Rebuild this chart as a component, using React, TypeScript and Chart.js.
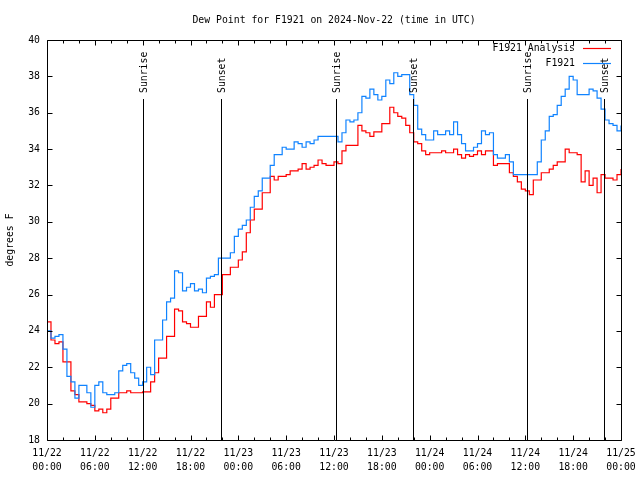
import React, { useEffect, useRef } from 'react';
import { Chart, registerables } from 'chart.js';

Chart.register(...registerables);

const TITLE = 'Dew Point for F1921 on 2024-Nov-22 (time in UTC)';
const Y_TITLE = 'degrees F';
const SERIES_NAMES = ['F1921 Analysis', 'F1921'];
const SERIES_COLORS = ['#ff0000', '#1083ff'];
const SAMPLE_STEP_HOURS = 0.5;

// F1921 Analysis (red), one value every 30 minutes from 11/22 00:00 UTC
const analysis = [
  24.5, 23.5, 23.3, 23.4, 22.3, 22.3, 20.7, 20.5, 20.1, 20.1, 20.0, 19.9,
  19.6, 19.7, 19.5, 19.7, 20.3, 20.3, 20.6, 20.6, 20.7, 20.6, 20.6, 20.6,
  20.65, 20.65, 21.2, 21.7, 22.5, 22.5, 23.7, 23.7, 25.2, 25.1, 24.5, 24.4,
  24.2, 24.2, 24.8, 24.8, 25.6, 25.3, 26.0, 26.0, 27.1, 27.1, 27.5, 27.5,
  27.9, 28.35, 29.4, 30.1, 30.7, 30.7, 31.6, 31.6, 32.5, 32.3, 32.5, 32.5,
  32.6, 32.8, 32.8, 32.9, 33.2, 32.9, 33.0, 33.1, 33.4, 33.2, 33.1, 33.1,
  33.3, 33.2, 33.9, 34.2, 34.2, 34.2, 35.3, 35.0, 34.9, 34.7, 34.95, 34.95,
  35.4, 35.4, 36.3, 36.0, 35.8, 35.7, 35.3, 34.9, 34.4, 34.3, 33.9, 33.7,
  33.8, 33.8, 33.8, 33.9, 33.8, 33.8, 34.0, 33.7, 33.5, 33.7, 33.6, 33.7,
  33.9, 33.7, 33.9, 33.9, 33.1, 33.2, 33.2, 33.2, 32.7, 32.5, 32.2, 31.8,
  31.7, 31.5, 32.3, 32.3, 32.7, 32.7, 32.9, 33.1, 33.3, 33.3, 34.0, 33.8,
  33.8, 33.7, 32.2, 32.8, 32.0, 32.4, 31.6, 32.6, 32.4, 32.4, 32.3, 32.6,
  32.9,
];

// F1921 station (blue)
const station = [
  24.0, 23.6, 23.7, 23.8, 23.0, 21.5, 21.2, 20.3, 21.0, 21.0, 20.6, 19.8,
  21.0, 21.2, 20.6, 20.5, 20.5, 20.6, 21.8, 22.1, 22.2, 21.7, 21.4, 21.0,
  21.2, 22.0, 21.6, 23.5, 23.5, 24.6, 25.6, 25.8, 27.3, 27.2, 26.2, 26.4,
  26.6, 26.2, 26.3, 26.1, 26.9, 27.0, 27.1, 28.0, 28.0, 28.0, 28.3, 29.2,
  29.6, 29.8, 30.1, 30.8, 31.4, 31.7, 32.4, 32.4, 33.1, 33.7, 33.7, 34.1,
  34.0, 34.0, 34.4, 34.3, 34.1, 34.4, 34.3, 34.5, 34.7, 34.7, 34.7, 34.7,
  34.7, 34.4, 34.9, 35.6, 35.5, 35.6, 36.0, 36.9, 36.8, 37.3, 37.0, 36.7,
  36.9, 37.8, 37.6, 38.2, 38.0, 38.1, 38.1, 37.0, 36.4, 35.1, 34.8, 34.5,
  34.5, 35.0, 34.8, 34.8, 35.0, 34.8, 35.5, 34.8, 34.3, 33.9, 33.9, 34.1,
  34.3, 35.0, 34.8, 34.9, 33.7, 33.5, 33.5, 33.7, 33.3, 32.6, 32.6, 32.6,
  32.6, 32.6, 32.6, 33.3, 34.5, 35.0, 35.8, 35.9, 36.4, 36.9, 37.3, 38.0,
  37.8, 37.0, 37.0, 37.0, 37.3, 37.2, 36.8, 36.2, 35.6, 35.4, 35.3, 35.0,
  35.3,
];

const xTickHours = [0, 6, 12, 18, 24, 30, 36, 42, 48, 54, 60, 66, 72];
const xTickDates = ['11/22', '11/22', '11/22', '11/22', '11/23', '11/23', '11/23', '11/23', '11/24', '11/24', '11/24', '11/24', '11/25'];
const xTickTimes = ['00:00', '06:00', '12:00', '18:00', '00:00', '06:00', '12:00', '18:00', '00:00', '06:00', '12:00', '18:00', '00:00'];
const xMinorHours = [2, 4, 8, 10, 14, 16, 20, 22, 26, 28, 32, 34, 38, 40, 44, 46, 50, 52, 56, 58, 62, 64, 68, 70];
const yTicks = [18, 20, 22, 24, 26, 28, 30, 32, 34, 36, 38, 40];

const sunLabels = ['Sunrise', 'Sunset', 'Sunrise', 'Sunset', 'Sunrise', 'Sunset'];
const sunHours = [12.08, 21.87, 36.2, 45.95, 60.25, 69.9];

const FONT_FAMILY = '"DejaVu Sans Mono", "Liberation Mono", monospace';
const FONT_SIZE = 9.8;

const overlayPlugin = {
  id: 'overlay',
  afterDatasetsDraw(chart: any) {
    const ctx = chart.ctx as CanvasRenderingContext2D;
    const area = chart.chartArea;
    const xs = chart.scales.x;
    const ys = chart.scales.y;
    ctx.save();
    ctx.font = `${FONT_SIZE}px ${FONT_FAMILY}`;
    ctx.fillStyle = '#000';
    ctx.strokeStyle = '#000';
    ctx.lineWidth = 1;

    // sunrise / sunset markers
    sunHours.forEach((h, i) => {
      const x = Math.round(xs.getPixelForValue(h)) + 0.5;
      ctx.beginPath();
      ctx.moveTo(x, area.top + 59);
      ctx.lineTo(x, area.bottom);
      ctx.stroke();
      ctx.save();
      ctx.translate(x + 1, area.top + 53);
      ctx.rotate(-Math.PI / 2);
      ctx.textAlign = 'left';
      ctx.textBaseline = 'middle';
      ctx.fillText(sunLabels[i], 0, 0);
      ctx.restore();
    });

    // border
    const L = Math.round(area.left) + 0.5;
    const R = Math.round(area.right) + 0.5;
    const T = Math.round(area.top) + 0.5;
    const B = Math.round(area.bottom) + 0.5;
    ctx.beginPath();
    ctx.rect(L, T, R - L, B - T);
    ctx.stroke();

    // ticks (inward, mirrored)
    ctx.beginPath();
    yTicks.forEach((v) => {
      const y = Math.round(ys.getPixelForValue(v)) + 0.5;
      ctx.moveTo(L, y); ctx.lineTo(L + 5, y);
      ctx.moveTo(R, y); ctx.lineTo(R - 5, y);
    });
    xTickHours.forEach((h) => {
      const x = Math.round(xs.getPixelForValue(h)) + 0.5;
      ctx.moveTo(x, B); ctx.lineTo(x, B - 5);
      ctx.moveTo(x, T); ctx.lineTo(x, T + 5);
    });
    xMinorHours.forEach((h) => {
      const x = Math.round(xs.getPixelForValue(h)) + 0.5;
      ctx.moveTo(x, B); ctx.lineTo(x, B - 3);
      ctx.moveTo(x, T); ctx.lineTo(x, T + 3);
    });
    ctx.stroke();

    // x tick labels (two lines: date / time)
    ctx.fillStyle = '#000';
    ctx.textAlign = 'center';
    ctx.textBaseline = 'middle';
    xTickHours.forEach((h, i) => {
      const x = xs.getPixelForValue(h);
      ctx.fillText(xTickDates[i], x, area.bottom + 13);
      ctx.fillText(xTickTimes[i], x, area.bottom + 27);
    });

    // legend
    const legendY = [area.top + 8, area.top + 23];
    SERIES_NAMES.forEach((name, i) => {
      ctx.fillStyle = '#000';
      ctx.textAlign = 'right';
      ctx.textBaseline = 'middle';
      ctx.fillText(name, area.right - 46, legendY[i]);
      ctx.strokeStyle = SERIES_COLORS[i];
      ctx.lineWidth = 1.2;
      ctx.beginPath();
      ctx.moveTo(area.right - 38, legendY[i] + 0.5);
      ctx.lineTo(area.right - 10, legendY[i] + 0.5);
      ctx.stroke();
    });

    // title
    ctx.fillStyle = '#000';
    ctx.textAlign = 'center';
    ctx.textBaseline = 'middle';
    ctx.fillText(TITLE, (area.left + area.right) / 2, 20);

    // y title
    ctx.save();
    ctx.translate(10, (area.top + area.bottom) / 2);
    ctx.rotate(-Math.PI / 2);
    ctx.textAlign = 'center';
    ctx.textBaseline = 'middle';
    ctx.fillText(Y_TITLE, 0, 0);
    ctx.restore();

    ctx.restore();
  },
};

export default function App() {
  const canvasRef = useRef<HTMLCanvasElement | null>(null);

  useEffect(() => {
    if (!canvasRef.current) return;
    const toPoints = (vals: number[]) => vals.map((v, i) => ({ x: i * SAMPLE_STEP_HOURS, y: v }));
    const chart = new Chart(canvasRef.current, {
      type: 'line',
      data: {
        datasets: [
          {
            label: SERIES_NAMES[0],
            data: toPoints(analysis),
            borderColor: SERIES_COLORS[0],
            backgroundColor: SERIES_COLORS[0],
            borderWidth: 1.2,
            pointRadius: 0,
            stepped: true,
            fill: false,
            order: 1,
          },
          {
            label: SERIES_NAMES[1],
            data: toPoints(station),
            borderColor: SERIES_COLORS[1],
            backgroundColor: SERIES_COLORS[1],
            borderWidth: 1.2,
            pointRadius: 0,
            stepped: true,
            fill: false,
            order: 0,
          },
        ],
      },
      options: {
        responsive: false,
        animation: false,
        layout: { padding: { top: 40, right: 19, left: 0, bottom: 0 } },
        plugins: {
          legend: { display: false },
          title: { display: false },
          tooltip: { enabled: false },
        },
        scales: {
          x: {
            type: 'linear',
            min: 0,
            max: 72,
            afterBuildTicks: (scale: any) => {
              scale.ticks = xTickHours.map((v) => ({ value: v }));
            },
            afterFit: (scale: any) => {
              scale.height = 40;
            },
            ticks: { display: false },
            grid: { display: false, drawTicks: false, tickLength: 0 },
            border: { display: false },
          },
          y: {
            min: 18,
            max: 40,
            afterBuildTicks: (scale: any) => {
              scale.ticks = yTicks.map((v) => ({ value: v }));
            },
            afterFit: (scale: any) => {
              scale.width = 47;
            },
            ticks: {
              padding: 7,
              color: '#000',
              font: { family: FONT_FAMILY, size: FONT_SIZE },
              callback: (v: any) => String(v),
            },
            grid: { display: false, drawTicks: false, tickLength: 0 },
            border: { display: false },
          },
        },
      },
      plugins: [overlayPlugin],
    } as any);
    return () => chart.destroy();
  }, []);

  return (
    <div style={{ position: 'absolute', left: 0, top: 0, width: 640, height: 480, background: '#fff' }}>
      <canvas ref={canvasRef} width={640} height={480} />
    </div>
  );
}
